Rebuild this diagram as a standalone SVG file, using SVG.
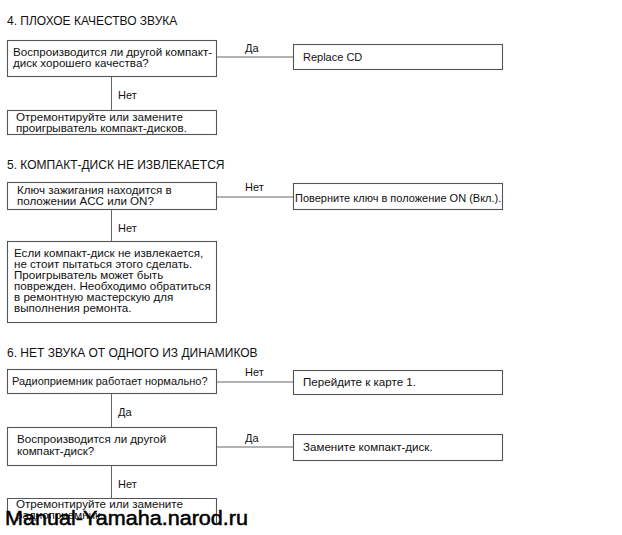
<svg xmlns="http://www.w3.org/2000/svg" width="622" height="535" viewBox="0 0 622 535">
<style>
text{font-family:"Liberation Sans",Arial,sans-serif;font-size:11.6px;fill:#111}
.t{font-size:12px}
.s{font-size:11px}
.b{fill:#fff;stroke:#555;stroke-width:1.1}
.c{stroke:#666;stroke-width:1;fill:none}
.c2{stroke:#999;stroke-width:1.6;fill:none}
.wm{font-size:20px;fill:#000;stroke:#000;stroke-width:0.5}
</style>
<rect width="622" height="535" fill="#fff"/>
<text class="t" x="7" y="25">4. ПЛОХОЕ КАЧЕСТВО ЗВУКА</text>
<text class="t" x="7" y="169">5. КОМПАКТ-ДИСК НЕ ИЗВЛЕКАЕТСЯ</text>
<text class="t" x="7" y="357">6. НЕТ ЗВУКА ОТ ОДНОГО ИЗ ДИНАМИКОВ</text>
<g id="connectors">
<line class="c" x1="216" y1="57" x2="293" y2="57"/>
<line class="c" x1="111.5" y1="77" x2="111.5" y2="110"/>
<line class="c2" x1="216" y1="197" x2="293" y2="197"/>
<line class="c" x1="111.5" y1="209" x2="111.5" y2="241"/>
<line class="c" x1="216" y1="382" x2="293" y2="382"/>
<line class="c" x1="111.5" y1="393" x2="111.5" y2="427"/>
<line class="c" x1="216" y1="447" x2="293" y2="447"/>
<line class="c" x1="111.5" y1="465" x2="111.5" y2="498"/>
<text class="s" x="245" y="52">Да</text>
<text class="s" x="118" y="99">Нет</text>
<text class="s" x="245" y="191">Нет</text>
<text class="s" x="118" y="232">Нет</text>
<text class="s" x="245" y="376">Нет</text>
<text class="s" x="118" y="416">Да</text>
<text class="s" x="245" y="442">Да</text>
<text class="s" x="118" y="488">Нет</text>
</g>
<g id="n1"><rect class="b" x="7.5" y="40.5" width="209" height="36"/>
<text x="13" y="56">Воспроизводится ли другой компакт-</text><text x="13" y="67">диск хорошего качества?</text></g>
<g id="n2"><rect class="b" x="293.5" y="44.5" width="209" height="25"/>
<text class="s" x="303" y="61">Replace CD</text></g>
<g id="n3"><rect class="b" x="7.5" y="110.5" width="209" height="24"/>
<text x="16" y="121">Отремонтируйте или замените</text><text x="16" y="132">проигрыватель компакт-дисков.</text></g>
<g id="n4"><rect class="b" x="7.5" y="182.5" width="209" height="27"/>
<text x="17" y="194">Ключ зажигания находится в</text><text x="17" y="205">положении ACC или ON?</text></g>
<g id="n5"><rect class="b" x="293.5" y="183.5" width="209" height="26"/>
<text class="s" x="295" y="202">Поверните ключ в положение ON (Вкл.).</text></g>
<g id="n6"><rect class="b" x="7.5" y="241.5" width="209" height="81"/>
<text x="14" y="257">Если компакт-диск не извлекается,</text>
<text x="14" y="268">не стоит пытаться этого сделать.</text>
<text x="14" y="279">Проигрыватель может быть</text>
<text x="14" y="290">поврежден. Необходимо обратиться</text>
<text x="14" y="301">в ремонтную мастерскую для</text>
<text x="14" y="312">выполнения ремонта.</text></g>
<g id="n7"><rect class="b" x="7.5" y="369.5" width="209" height="24"/>
<text class="s" x="12" y="385">Радиоприемник работает нормально?</text></g>
<g id="n8"><rect class="b" x="293.5" y="370.5" width="209" height="24"/>
<text x="303" y="386">Перейдите к карте 1.</text></g>
<g id="n9"><rect class="b" x="7.5" y="427.5" width="209" height="38"/>
<text x="17" y="443">Воспроизводится ли другой</text><text x="17" y="455">компакт-диск?</text></g>
<g id="n10"><rect class="b" x="293.5" y="434.5" width="209" height="26"/>
<text x="303" y="451">Замените компакт-диск.</text></g>
<g id="n11"><path class="b" d="M7.5,523 V498.5 H216.5 V523"/>
<text x="16" y="508">Отремонтируйте или замените</text><text x="16" y="519">радиоприемник.</text></g>
<text class="wm" x="5" y="525" textLength="243" lengthAdjust="spacingAndGlyphs">Manual-Yamaha.narod.ru</text>
</svg>
